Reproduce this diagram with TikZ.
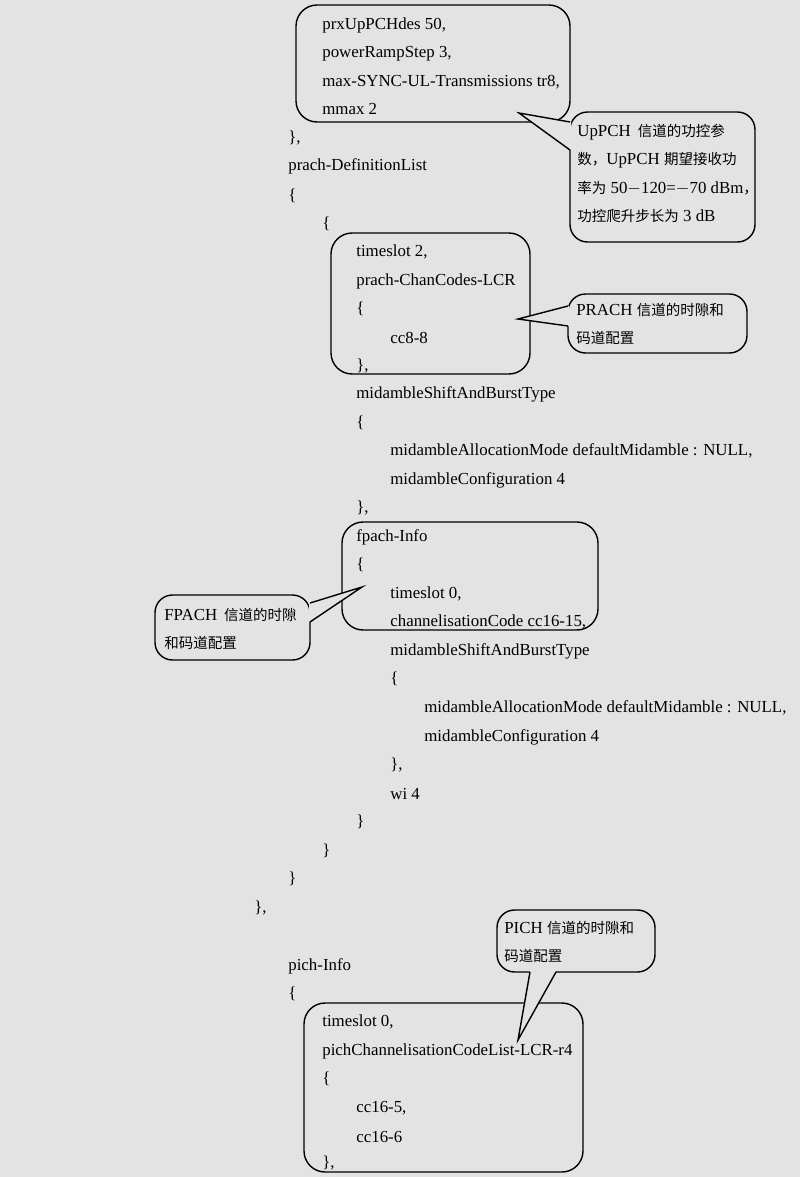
\documentclass[tikz,border=0pt]{standalone}
\usepackage{fontspec}
\setmainfont{Liberation Serif}
\newfontfamily\cjk[Scale=0.86]{Noto Sans CJK SC}
\usetikzlibrary{positioning}
\definecolor{bgray}{HTML}{E3E3E3}
\tikzset{
	every node/.style = {font=\fontsize{9.6}{12}\selectfont},
	txt/.style = {anchor=west, inner sep=0pt},
	frame/.style = {draw, thick, rounded corners=12pt},
	callout/.style = {draw, thick, fill=bgray, rounded corners=10pt}
}
\begin{document}
\begin{tikzpicture}[x=0.02cm, y=-0.02cm]
	\fill[bgray] (0,0) rectangle (800,1177);
	\useasboundingbox (0,0) rectangle (800,1177);
	% code lines
	\node[txt] (a1) at (322,25) {prxUpPCHdes 50,};
	\node[txt] (a2) at (322,54) {powerRampStep 3,};
	\node[txt] (a3) at (322,82) {max-SYNC-UL-Transmissions tr8,};
	\node[txt] (a4) at (322,109) {mmax 2};
	\node[txt] (a5) at (288,138) {\},};
	\node[txt] (a6) at (288,166) {prach-DefinitionList};
	\node[txt] (a7) at (288,196) {\{};
	\node[txt] (a8) at (322,224) {\{};
	\node[txt] (b1) at (356,252) {timeslot 2,};
	\node[txt] (b2) at (356,281) {prach-ChanCodes-LCR};
	\node[txt] (b3) at (356,309) {\{};
	\node[txt] (b4) at (390,338) {cc8-8};
	\node[txt] (b5) at (356,366) {\},};
	\node[txt] (b6) at (356,394) {midambleShiftAndBurstType};
	\node[txt] (b7) at (356,423) {\{};
	\node[txt] (b8) at (390,451) {midambleAllocationMode defaultMidamble : NULL,};
	\node[txt] (b9) at (390,480) {midambleConfiguration 4};
	\node[txt] (b10) at (356,508) {\},};
	\node[txt] (c1) at (356,537) {fpach-Info};
	\node[txt] (c2) at (356,565) {\{};
	\node[txt] (c3) at (390,594) {timeslot 0,};
	\node[txt] (c4) at (390,622) {channelisationCode cc16-15,};
	\node[txt] (c5) at (390,651) {midambleShiftAndBurstType};
	\node[txt] (c6) at (390,679) {\{};
	\node[txt] (c7) at (424,708) {midambleAllocationMode defaultMidamble : NULL,};
	\node[txt] (c8) at (424,737) {midambleConfiguration 4};
	\node[txt] (c9) at (390,765) {\},};
	\node[txt] (c10) at (390,794) {wi 4};
	\node[txt] (c11) at (356,822) {\}};
	\node[txt] (c12) at (322,851) {\}};
	\node[txt] (c13) at (288,879) {\}};
	\node[txt] (c14) at (254,908) {\},};
	\node[txt] (d1) at (288,966) {pich-Info};
	\node[txt] (d2) at (288,994) {\{};
	\node[txt] (d3) at (322,1022) {timeslot 0,};
	\node[txt] (d4) at (322,1051) {pichChannelisationCodeList-LCR-r4};
	\node[txt] (d5) at (322,1079) {\{};
	\node[txt] (d6) at (356,1108) {cc16-5,};
	\node[txt] (d7) at (356,1137) {cc16-6};
	\node[txt] (d8) at (322,1163) {\},};
	% frames
	\draw[frame] (296,5) rectangle (570,122);
	\draw[frame] (331,233) rectangle (530,374);
	\draw[frame] (342,522) rectangle (598,630);
	\draw[frame] (304,1003) rectangle (583,1172);
	% callouts
	\coordinate (t1) at (519,113);
	\coordinate (t2) at (518,319);
	\coordinate (t3) at (362,587);
	\coordinate (t4) at (518,1040);
	\draw[callout] (570,112) rectangle (755,242);
	\fill[bgray] (571,122) -- (t1) -- (571,150) -- cycle;
	\draw[thick] (570,122) -- (t1) -- (570,150);
	\draw[callout] (568,294) rectangle (747,353);
	\fill[bgray] (569,306) -- (t2) -- (569,326) -- cycle;
	\draw[thick] (568,306) -- (t2) -- (568,326);
	\draw[callout] (155,595) rectangle (310,660);
	\fill[bgray] (309,603) -- (t3) -- (309,622) -- cycle;
	\draw[thick] (310,603) -- (t3) -- (310,622);
	\draw[callout] (497,910) rectangle (655,972);
	\fill[bgray] (530,971) -- (t4) -- (556,971) -- cycle;
	\draw[thick] (530,972) -- (t4) -- (556,972);
	% callout texts
	\node[txt] (n1) at (577,132) {UpPCH\, {\cjk 信道的功控参}};
	\node[txt] (n2) at (577,160) {{\cjk 数，}UpPCH {\cjk 期望接收功}};
	\node[txt] (n3) at (577,188) {{\cjk 率为} 50$-$120=$-$70 dBm{\cjk ，}};
	\node[txt] (n4) at (577,216) {{\cjk 功控爬升步长为} 3 dB};
	\node[txt] (n5) at (576,310) {PRACH {\cjk 信道的时隙和}};
	\node[txt] (n6) at (576,338) {{\cjk 码道配置}};
	\node[txt] (n7) at (164,615) {FPACH\, {\cjk 信道的时隙}};
	\node[txt] (n8) at (164,643) {{\cjk 和码道配置}};
	\node[txt] (n9) at (504,928) {PICH {\cjk 信道的时隙和}};
	\node[txt] (n10) at (504,956) {{\cjk 码道配置}};
\end{tikzpicture}
\end{document}
